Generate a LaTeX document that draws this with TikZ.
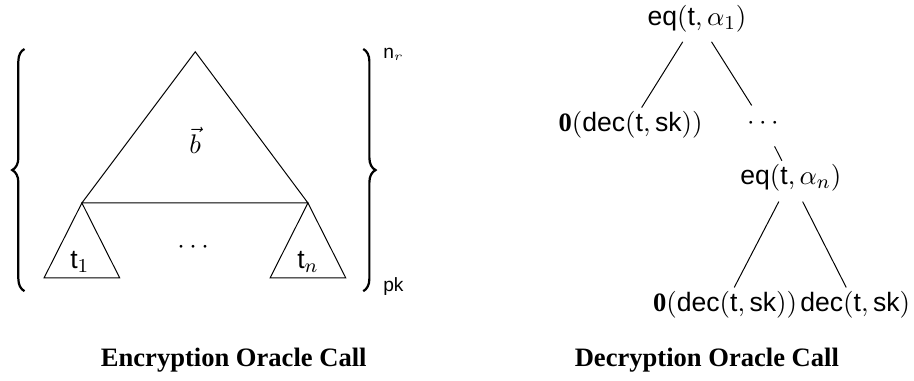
\documentclass[tikz,border=0pt]{standalone}
\usepackage{fontspec}
\setmainfont{Liberation Serif}
\setsansfont{Liberation Sans}
\usetikzlibrary{decorations.pathreplacing}
\begin{document}
\begin{tikzpicture}[scale=1,font=\fontsize{10.8}{13}\selectfont,
    tnode/.style={inner sep=2pt, text height=0.75em, text depth=0.25em},
    edge/.style={shorten <=2.5pt},
    bigbrace/.style={decorate, decoration={brace, amplitude=5pt}, line width=0.9pt},
    small/.style={anchor=base west, inner sep=0, font=\fontsize{7.8}{9}\selectfont}]
      \useasboundingbox (0,0) rectangle (13.06,5.43);
      \coordinate (top) at (2.79,4.69);
      \coordinate (bl) at (1.17,2.53);
      \coordinate (br) at (4.40,2.53);
      \draw (top) -- (bl) -- (br) -- cycle;
      \draw (bl) -- (0.63,1.46) -- (1.71,1.46) -- cycle;
      \draw (br) -- (3.86,1.46) -- (4.94,1.46) -- cycle;
      \node (b) at (2.79,3.43) {$\vec{b}$};
      \node (t1) at (1.14,1.69) {$\mathsf{t}_1$};
      \node (tn) at (4.40,1.69) {$\mathsf{t}_n$};
      \node (mid) at (2.76,1.90) {$\cdots$};
      \draw[bigbrace] (0.35,1.27) -- (0.35,4.73);
      \draw[bigbrace] (5.19,4.73) -- (5.19,1.27);
      \node[small] (nr) at (5.47,4.60) {$\mathsf{n}_r$};
      \node[small] (pk) at (5.47,1.26) {$\mathsf{pk}$};

      \node[tnode] (eq1) at (9.96,5.16) {$\mathsf{eq}(\mathsf{t},\alpha_1)$};
      \node[tnode] (zero1) at (9.01,3.64) {$\mathbf{0}(\mathsf{dec}(\mathsf{t},\mathsf{sk}))$};
      \node[tnode] (dots1) at (10.90,3.67) {$\cdots$};
      \node[tnode] (eqn) at (11.30,2.88) {$\mathsf{eq}(\mathsf{t},\alpha_n)$};
      \node[tnode] (zero2) at (10.36,1.07) {$\mathbf{0}(\mathsf{dec}(\mathsf{t},\mathsf{sk}))$};
      \node[tnode] (dec2) at (12.22,1.07) {$\mathsf{dec}(\mathsf{t},\mathsf{sk})$};
      \draw[edge] (eq1) -- (zero1);
      \draw[edge] (eq1) -- (dots1);
      \draw[edge] (dots1) -- (eqn);
      \draw[edge] (eqn) -- (zero2);
      \draw[edge] (eqn) -- (dec2);

      \node[anchor=base] (enccap) at (3.34,0.20) {\textbf{Encryption Oracle Call}};
      \node[anchor=base] (deccap) at (10.10,0.20) {\textbf{Decryption Oracle Call}};
\end{tikzpicture}
\end{document}
